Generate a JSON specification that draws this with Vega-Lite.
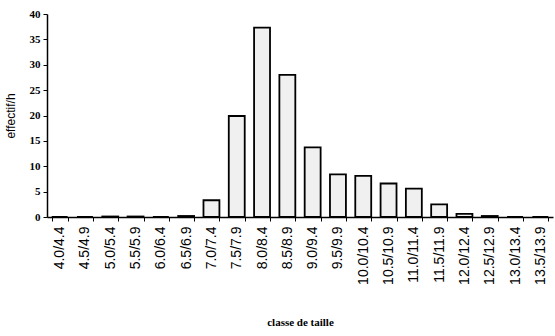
{
  "$schema": "https://vega.github.io/schema/vega-lite/v6.json",
  "autosize": {"type": "none"},
  "padding": {"left": 47, "top": 14, "right": 2, "bottom": 119},
  "width": 506,
  "height": 203,
  "background": "white",
  "data": {"values": [
    {"classe": "4.0/4.4", "effectif": 0},
    {"classe": "4.5/4.9", "effectif": 0},
    {"classe": "5.0/5.4", "effectif": 0.1},
    {"classe": "5.5/5.9", "effectif": 0.1},
    {"classe": "6.0/6.4", "effectif": 0},
    {"classe": "6.5/6.9", "effectif": 0.2},
    {"classe": "7.0/7.4", "effectif": 3.3},
    {"classe": "7.5/7.9", "effectif": 19.9},
    {"classe": "8.0/8.4", "effectif": 37.3},
    {"classe": "8.5/8.9", "effectif": 28.0},
    {"classe": "9.0/9.4", "effectif": 13.7},
    {"classe": "9.5/9.9", "effectif": 8.4},
    {"classe": "10.0/10.4", "effectif": 8.1},
    {"classe": "10.5/10.9", "effectif": 6.6},
    {"classe": "11.0/11.4", "effectif": 5.6},
    {"classe": "11.5/11.9", "effectif": 2.5},
    {"classe": "12.0/12.4", "effectif": 0.6},
    {"classe": "12.5/12.9", "effectif": 0.2},
    {"classe": "13.0/13.4", "effectif": 0},
    {"classe": "13.5/13.9", "effectif": 0}
  ]},
  "mark": {"type": "bar", "fill": "#f0f0f0", "stroke": "black", "strokeWidth": 1.8},
  "encoding": {
    "x": {
      "field": "classe", "type": "nominal", "sort": null,
      "scale": {"paddingInner": 0.37, "paddingOuter": 0.185},
      "axis": {
        "title": "classe de taille",
        "titleFont": "Liberation Serif", "titleFontWeight": "bold", "titleFontSize": 11, "titleColor": "black",
        "titlePadding": 32,
        "labelAngle": -90, "labelFont": "Liberation Sans", "labelFontSize": 14, "labelColor": "black",
        "labelPadding": 5,
        "tickBand": "extent", "tickSize": 4, "tickColor": "black", "domainColor": "black", "domainWidth": 1.5
      }
    },
    "y": {
      "field": "effectif", "type": "quantitative",
      "scale": {"domain": [0, 40]},
      "axis": {
        "title": "effectif/h", "values": [0, 5, 10, 15, 20, 25, 30, 35, 40],
        "titleFont": "Liberation Sans", "titleFontWeight": "normal", "titleFontSize": 12, "titleColor": "black",
        "titleX": -37, "titleBaseline": "middle",
        "labelFont": "Liberation Serif", "labelFontWeight": "bold", "labelFontSize": 11, "labelColor": "black",
        "labelPadding": 3,
        "grid": false, "tickSize": 4, "tickColor": "black", "domainColor": "black", "domainWidth": 1.5
      }
    }
  },
  "config": {"view": {"stroke": null}}
}
